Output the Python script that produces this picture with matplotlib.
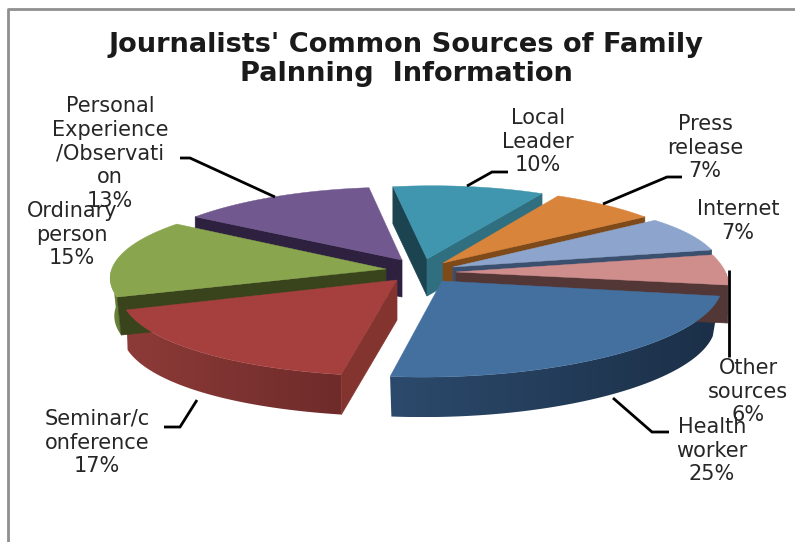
import matplotlib
matplotlib.use('Agg')
import matplotlib.pyplot as plt
import numpy as np
from matplotlib.colors import LinearSegmentedColormap
from matplotlib.patches import Polygon

# 切片数据,顺时针排列
categories = ['Local\nLeader', 'Press\nrelease', 'Internet', 'Other\nsources', 'Health\nworker',
              'Seminar/c\nonference', 'Ordinary\nperson', 'Personal\nExperience\n/Observati\non']
values = [10, 7, 7, 6, 25, 17, 15, 13]
title = "Journalists' Common Sources of Family\nPalnning  Information"

START_ANGLE = -8

# 每个切片的位置和透视半径: 顶点 x, y, 起止 rx, 起止 ry, 厚度, 底边收缩
geometry = [
    (427, 259, 245, 245, 73, 74, 37, 1.0),
    (443, 263, 245, 252, 76, 77, 37, 1.0),
    (453, 267, 252, 264, 78, 85, 37, 1.0),
    (456, 272, 262, 276, 85, 75, 38, 1.0),
    (442, 281, 282, 299, 87, 97, 40, 0.975),
    (397, 280, 322, 286, 96, 93, 40, 0.995),
    (386, 269, 284, 256, 87, 78, 38, 0.985),
    (402, 260, 253, 237, 75, 73, 37, 1.0),
]
top_colors = ['#3f96ae', '#d9843b', '#8da5cd', '#cf8d8b', '#44709f', '#a5403e', '#89a54e', '#71588f']
start_face = ['#1c4450', '#7f4a1a', '#3b4f6e', '#533736', '#1b2f47', '#83342f', '#3a441c', '#2e2140']
end_face = ['#2f6f80', '#7f4a1a', '#3b4f6e', '#533736', '#1b2f47', '#83342f', '#3a441c', '#2e2140']
side_left = ['#2f6f80', '#7f4a1a', '#3b4f6e', '#5a3a39', '#2c4a6c', '#8d3b38', '#6f8a3c', '#2e2140']
side_right = ['#2f6f80', '#7f4a1a', '#3b4f6e', '#533736', '#1b2f47', '#6e2b2a', '#5f7832', '#2e2140']

# 绘制顺序: 先后面, 再前面
draw_order = [7, 0, 1, 2, 3, 6, 5, 4]

# 文字中心位置 (第一行的 y)
label_pos = [(538, 118), (705, 124), (738, 209), (748, 368), (712, 427), (97, 419), (72, 211), (110, 106)]

# 引线
leaders = [
    ([467, 492, 508], [186, 172, 172]),
    ([603, 667, 682], [204, 177, 177]),
    ([729, 729], [270, 357]),
    ([613, 652, 669], [398, 432, 432]),
    ([197, 180, 164], [400, 427, 427]),
    ([275, 190, 180], [197, 158, 158]),
]


def arc_points(geo, t0, t1, n=120):
    ax_, ay_, rx0, rx1, ry0, ry1 = geo[:6]
    ts = np.linspace(t0, t1, n)
    f = (ts - t0) / (t1 - t0)
    rx = rx0 + (rx1 - rx0) * f
    ry = ry0 + (ry1 - ry0) * f
    xs = ax_ + rx * np.sin(np.radians(ts))
    ys = ay_ - ry * np.cos(np.radians(ts))
    return ts, xs, ys


def draw_slice(ax, i, t0, t1):
    geo = geometry[i]
    apex_x, apex_y, depth, shrink = geo[0], geo[1], geo[6], geo[7]
    ts, xs, ys = arc_points(geo, t0, t1)
    x_low = apex_x + (xs - apex_x) * shrink

    # 径向侧面 (只画朝向观察者的一面)
    if np.sin(np.radians(t0)) < 0:
        ax.fill([apex_x, xs[0], x_low[0], apex_x], [apex_y, ys[0], ys[0] + depth, apex_y + depth],
                color=start_face[i], lw=0.5)
    if np.sin(np.radians(t1)) > 0:
        ax.fill([apex_x, xs[-1], x_low[-1], apex_x], [apex_y, ys[-1], ys[-1] + depth, apex_y + depth],
                color=end_face[i], lw=0.5)

    # 外弧面, 横向渐变用图像裁剪出来
    front = np.where(np.cos(np.radians(ts)) < 0)[0]
    if len(front) > 1:
        x_top, y_top = xs[front], ys[front]
        x_bot = x_low[front]
        y_bot = y_top + depth
        outline = np.c_[np.r_[x_top, x_bot[::-1]], np.r_[y_top, y_bot[::-1]]]
        patch = Polygon(outline, closed=True, facecolor='none', edgecolor='none', transform=ax.transData)
        ax.add_patch(patch)
        cmap = LinearSegmentedColormap.from_list('side', [side_left[i], side_right[i]])
        im = ax.imshow(np.linspace(0, 1, 256)[None, :], cmap=cmap, aspect='auto',
                       extent=(outline[:, 0].min(), outline[:, 0].max(), outline[:, 1].max(), outline[:, 1].min()))
        im.set_clip_path(patch)

    # 顶面
    ax.fill(np.r_[apex_x, xs], np.r_[apex_y, ys], color=top_colors[i], lw=0.3)


def create_pie_diagram():
    fig = plt.figure(figsize=(7.95, 5.42), dpi=100)
    ax = fig.add_axes([0, 0, 1, 1])
    ax.axis('off')

    # 外框 (只有上边和左边)
    ax.plot([795, 8, 8], [9, 9, 542], color='#8f8f8f', lw=2)

    bounds = START_ANGLE + np.r_[0, np.cumsum(values)] / sum(values) * 360
    for i in draw_order:
        draw_slice(ax, i, bounds[i], bounds[i + 1])

    for xs, ys in leaders:
        ax.plot(xs, ys, color='black', lw=2, solid_capstyle='butt', solid_joinstyle='miter')

    for name, v, (x, y) in zip(categories, values, label_pos):
        lines = name.split('\n') + [f'{v}%']
        for k, line in enumerate(lines):
            ax.text(x, y + k * 23.7, line, ha='center', va='center', fontsize=15,
                    family='DejaVu Sans', color='#262626')

    for k, line in enumerate(title.split('\n')):
        ax.text(406, 45 + k * 29, line, ha='center', va='center', fontsize=19.6,
                family='DejaVu Sans', weight='bold', color='#1a1a1a')

    # imshow 会改坐标范围, 最后再设
    ax.set_xlim(0, 795)
    ax.set_ylim(542, 0)

    plt.savefig('out.png', dpi=100)


if __name__ == "__main__":
    create_pie_diagram()
